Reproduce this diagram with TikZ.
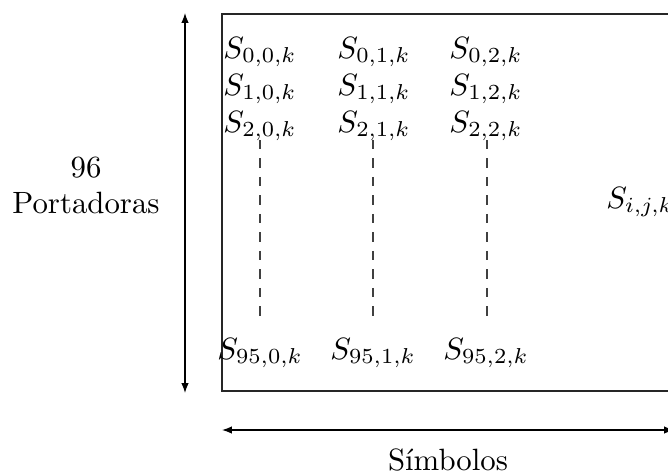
\documentclass[tikz,border=0pt]{standalone}
\usetikzlibrary{arrows.meta}
\begin{document}
\begin{tikzpicture}[x=0.3247pt,y=-0.3247pt,
  dimarrow/.style={{Latex[length=3.2pt,width=2.4pt]}-{Latex[length=3.2pt,width=2.4pt]}, line width=0.4pt},
  frame/.style={draw=black!85, line width=0.45pt},
  lbl/.style={anchor=base, inner sep=0pt},
  dots/.style={dashed, draw=black!75, line width=0.4pt}]
\useasboundingbox (0,0) rectangle (668,475);
% frame (its right side lies beyond the picture's edge)
\draw[frame] (680,14) -- (222,14) -- (222,391) -- (680,391);
% dimension arrows
\coordinate (vt) at (185,13);
\coordinate (vb) at (185,393);
\draw[dimarrow] (vt) -- (vb);
\coordinate (hl) at (222,430);
\coordinate (hr) at (674,430);
\draw[dimarrow] (hl) -- (hr);
% axis labels
\node[lbl] (n96) at (86,177) {96};
\node[lbl] (nport) at (86,213) {Portadoras};
\node[lbl] (nsim) at (448,470) {Símbolos};
% matrix entries
\node[lbl] (s00) at (260,58) {$S_{0,0,k}$};
\node[lbl] (s01) at (374,58) {$S_{0,1,k}$};
\node[lbl] (s02) at (486,58) {$S_{0,2,k}$};
\node[lbl] (s10) at (260,95) {$S_{1,0,k}$};
\node[lbl] (s11) at (374,95) {$S_{1,1,k}$};
\node[lbl] (s12) at (486,95) {$S_{1,2,k}$};
\node[lbl] (s20) at (260,132) {$S_{2,0,k}$};
\node[lbl] (s21) at (374,132) {$S_{2,1,k}$};
\node[lbl] (s22) at (486,132) {$S_{2,2,k}$};
\node[lbl] (s950) at (260,359) {$S_{95,0,k}$};
\node[lbl] (s951) at (373,359) {$S_{95,1,k}$};
\node[lbl] (s952) at (486,359) {$S_{95,2,k}$};
\node[lbl] (sijk) at (640,208) {$S_{i,j,k}$};
% dashed continuation lines
\coordinate (d0a) at (260,140); \coordinate (d0b) at (260,316);
\coordinate (d1a) at (373,140); \coordinate (d1b) at (373,316);
\coordinate (d2a) at (487,140); \coordinate (d2b) at (487,316);
\draw[dots] (d0a) -- (d0b);
\draw[dots] (d1a) -- (d1b);
\draw[dots] (d2a) -- (d2b);
\end{tikzpicture}
\end{document}
